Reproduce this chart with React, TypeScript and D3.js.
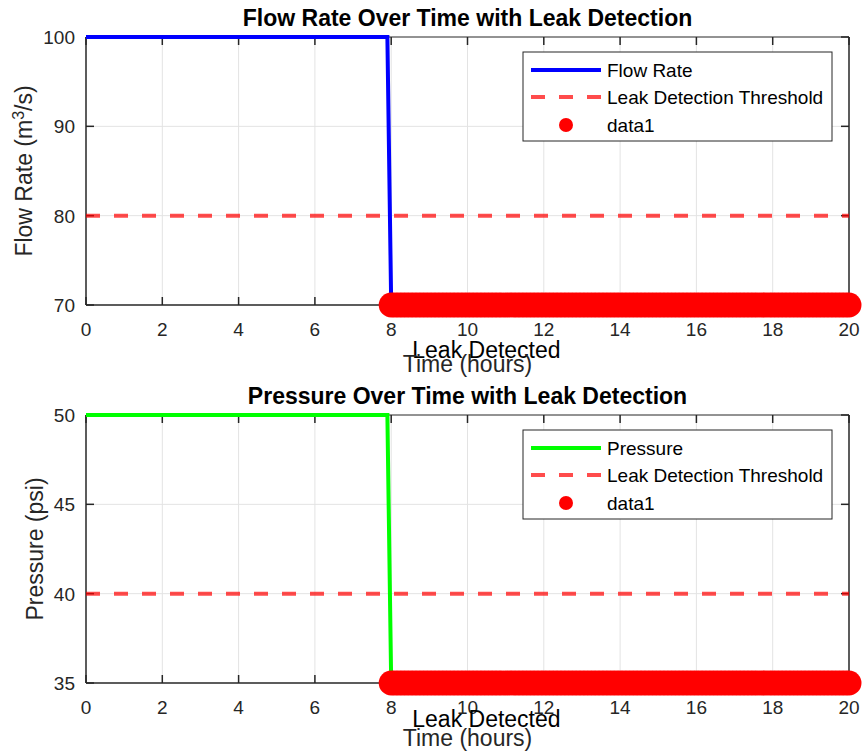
import React from 'react';
import { scaleLinear, line } from 'd3';

const timePoints = [0, 7.9, 8, 20];
const flowValues = [100, 100, 70, 70];
const pressureValues = [50, 50, 35, 35];
const flowThreshold = 80;
const pressureThreshold = 40;
const leakTimes = [
  8, 8.1, 8.2, 8.3, 8.4, 8.5, 8.6, 8.7, 8.8, 8.9, 9, 9.1, 9.2, 9.3, 9.4, 9.5, 9.6, 9.7, 9.8, 9.9,
  10, 10.1, 10.2, 10.3, 10.4, 10.5, 10.6, 10.7, 10.8, 10.9, 11, 11.1, 11.2, 11.3, 11.4, 11.5, 11.6, 11.7, 11.8, 11.9,
  12, 12.1, 12.2, 12.3, 12.4, 12.5, 12.6, 12.7, 12.8, 12.9, 13, 13.1, 13.2, 13.3, 13.4, 13.5, 13.6, 13.7, 13.8, 13.9,
  14, 14.1, 14.2, 14.3, 14.4, 14.5, 14.6, 14.7, 14.8, 14.9, 15, 15.1, 15.2, 15.3, 15.4, 15.5, 15.6, 15.7, 15.8, 15.9,
  16, 16.1, 16.2, 16.3, 16.4, 16.5, 16.6, 16.7, 16.8, 16.9, 17, 17.1, 17.2, 17.3, 17.4, 17.5, 17.6, 17.7, 17.8, 17.9,
  18, 18.1, 18.2, 18.3, 18.4, 18.5, 18.6, 18.7, 18.8, 18.9, 19, 19.1, 19.2, 19.3, 19.4, 19.5, 19.6, 19.7, 19.8, 19.9,
  20,
];
const timeTicks = [0, 2, 4, 6, 8, 10, 12, 14, 16, 18, 20];
const flowTicks = [70, 80, 90, 100];
const pressureTicks = [35, 40, 45, 50];

const W = 862;
const H = 754;
const left = 86;
const right = 849;
const panelHeight = 268;
const font = '"Liberation Sans", Arial, sans-serif';
const axisColor = '#262626';
const thresholdColor = 'rgba(255,0,0,0.7)';

const Panel = ({ top, values, ticks, threshold, color, title, yLabel, seriesName, textY, xLabelOffset }) => {
  const x = scaleLinear().domain([0, 20]).range([left, right]);
  const y = scaleLinear().domain([ticks[0], ticks[ticks.length - 1]]).range([top + panelHeight, top]);
  const path = line().x((d) => x(d[0])).y((d) => y(d[1]));
  const series = timePoints.map((t, i) => [t, values[i]]);
  const bottom = top + panelHeight;
  const legendX = 523;
  const legendY = top + 15;

  return (
    <g fontFamily={font}>
      {/* grid */}
      {timeTicks.slice(1, -1).map((t) => (
        <line key={'gx' + t} x1={x(t)} x2={x(t)} y1={top} y2={bottom} stroke="#e3e3e3" strokeWidth={1} />
      ))}
      {ticks.slice(1, -1).map((v) => (
        <line key={'gy' + v} x1={left} x2={right} y1={y(v)} y2={y(v)} stroke="#e3e3e3" strokeWidth={1} />
      ))}
      {/* box */}
      <line x1={left} x2={right} y1={top} y2={top} stroke={axisColor} strokeWidth={1} />
      <line x1={right} x2={right} y1={top} y2={bottom} stroke={axisColor} strokeWidth={1.5} />
      <line x1={left} x2={right} y1={bottom} y2={bottom} stroke={axisColor} strokeWidth={1.5} />
      <line x1={left} x2={left} y1={top} y2={bottom} stroke={axisColor} strokeWidth={1.5} />
      {timeTicks.map((t) => (
        <g key={'tx' + t}>
          <line x1={x(t)} x2={x(t)} y1={bottom} y2={bottom - 8} stroke={axisColor} strokeWidth={1.5} />
          <line x1={x(t)} x2={x(t)} y1={top} y2={top + 8} stroke={axisColor} strokeWidth={1.5} />
          <text x={x(t)} y={bottom + 31} textAnchor="middle" fontSize={19} fill={axisColor}>{t}</text>
        </g>
      ))}
      {ticks.map((v) => (
        <g key={'ty' + v}>
          <line x1={left} x2={left + 8} y1={y(v)} y2={y(v)} stroke={axisColor} strokeWidth={1.5} />
          <line x1={right} x2={right - 8} y1={y(v)} y2={y(v)} stroke={axisColor} strokeWidth={1.5} />
          <text x={left - 11} y={y(v)} dy="0.36em" textAnchor="end" fontSize={19} fill={axisColor}>{v}</text>
        </g>
      ))}
      {/* threshold */}
      <line x1={x(0)} x2={x(20)} y1={y(threshold)} y2={y(threshold)} stroke={thresholdColor} strokeWidth={4} strokeDasharray="14 14" />
      {/* series */}
      <path d={path(series)} fill="none" stroke={color} strokeWidth={4} />
      {leakTimes.map((t) => (
        <circle key={'m' + t} cx={x(t)} cy={y(values[values.length - 1])} r={12.5} fill="#ff0000" />
      ))}
      {/* labels */}
      <text x={(left + right) / 2} y={top - 11} textAnchor="middle" fontSize={23} fontWeight="bold" fill="#000">{title}</text>
      <text x={x(8.5) + 2} y={y(textY)} dy="0.36em" fontSize={23} fill="#000">Leak Detected</text>
      <text x={(left + right) / 2} y={bottom + xLabelOffset} textAnchor="middle" fontSize={23} fill={axisColor}>Time (hours)</text>
      <text transform={`translate(${yLabel.x},${(top + bottom) / 2}) rotate(-90)`} textAnchor="middle" fontSize={23} fill={axisColor}>
        {yLabel.parts.map((p, i) => (
          <tspan key={i} baselineShift={p.sup ? '50%' : undefined} fontSize={p.sup ? 16 : 23}>{p.text}</tspan>
        ))}
      </text>
      {/* legend */}
      <rect x={legendX} y={legendY} width={309} height={89} fill="#fff" stroke={axisColor} strokeWidth={1} />
      <line x1={531} x2={601} y1={legendY + 18} y2={legendY + 18} stroke={color} strokeWidth={4} />
      <text x={607} y={legendY + 18} dy="0.36em" fontSize={19} fill="#000">{seriesName}</text>
      <line x1={531} x2={601} y1={legendY + 45} y2={legendY + 45} stroke={thresholdColor} strokeWidth={4} strokeDasharray="14 14" />
      <text x={607} y={legendY + 45} dy="0.36em" fontSize={19} fill="#000">Leak Detection Threshold</text>
      <circle cx={566} cy={legendY + 73} r={7} fill="#ff0000" />
      <text x={607} y={legendY + 73} dy="0.36em" fontSize={19} fill="#000">data1</text>
    </g>
  );
};

export default function App() {
  return (
    <svg width={W} height={H} style={{ position: 'absolute', left: 0, top: 0, background: '#fff' }}>
      <rect width={W} height={H} fill="#fff" />
      <Panel
        top={37}
        values={flowValues}
        ticks={flowTicks}
        threshold={flowThreshold}
        color="#0000ff"
        title="Flow Rate Over Time with Leak Detection"
        yLabel={{ x: 32, parts: [{ text: 'Flow Rate (m' }, { text: '3', sup: true }, { text: '/s)' }] }}
        seriesName="Flow Rate"
        textY={65}
        xLabelOffset={67}
      />
      <Panel
        top={415}
        values={pressureValues}
        ticks={pressureTicks}
        threshold={pressureThreshold}
        color="#00ff00"
        title="Pressure Over Time with Leak Detection"
        yLabel={{ x: 43, parts: [{ text: 'Pressure (psi)' }] }}
        seriesName="Pressure"
        textY={33}
        xLabelOffset={63}
      />
    </svg>
  );
}
